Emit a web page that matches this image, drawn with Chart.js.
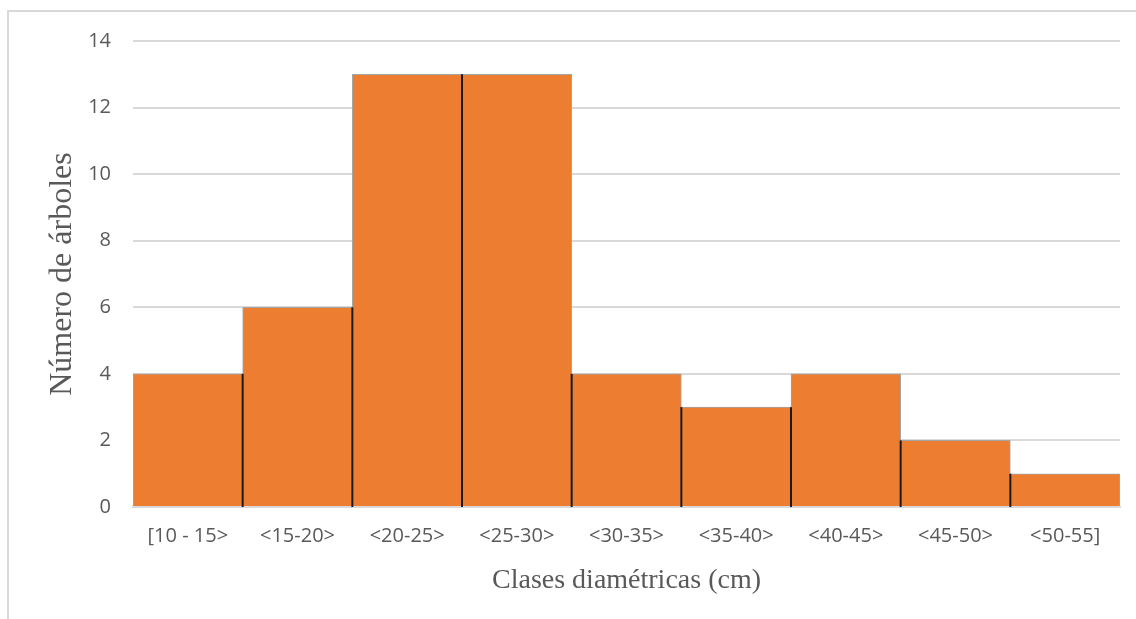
<!DOCTYPE html>
<html lang="es">
<head>
<meta charset="UTF-8">
<title>Clases diamétricas</title>
<script src="https://cdn.jsdelivr.net/npm/chart.js"></script>
<style>
  body { margin: 0; background: #fff; overflow: hidden; }
  .frame { position: absolute; left: 7px; top: 10px; width: 1140px; height: 640px; border: 2px solid #d9d9d9; box-sizing: border-box; }
  .wrap { position: absolute; left: 0; top: 0; width: 1136px; height: 619px; }
</style>
</head>
<body>
<div class="frame"></div>
<div class="wrap"><canvas id="histo"></canvas></div>
<script>
// Datos del histograma
const clases = ['[10 - 15>', '<15-20>', '<20-25>', '<25-30>', '<30-35>', '<35-40>', '<40-45>', '<45-50>', '<50-55]'];
const arboles = [4, 6, 13, 13, 4, 3, 4, 2, 1];
const yTicks = [0, 2, 4, 6, 8, 10, 12, 14];

// black separator lines between neighbouring bars
const separators = {
  id: 'separators',
  afterDatasetsDraw(chart) {
    const bars = chart.getDatasetMeta(0).data;
    const y = chart.scales.y;
    const ctx = chart.ctx;
    ctx.save();
    ctx.strokeStyle = '#1a1a1a';
    ctx.lineWidth = 2;
    for (let i = 1; i < bars.length; i++) {
      const lo = Math.min(arboles[i - 1], arboles[i]);
      const xPos = bars[i].x - bars[i].width / 2;
      ctx.beginPath();
      ctx.moveTo(xPos, y.getPixelForValue(0));
      ctx.lineTo(xPos, y.getPixelForValue(lo));
      ctx.stroke();
    }
    ctx.restore();
  }
};

new Chart(document.getElementById('histo'), {
  type: 'bar',
  data: {
    labels: clases,
    datasets: [{
      data: arboles,
      backgroundColor: '#ED7D31',
      borderColor: '#a5a5a5',
      borderWidth: 1,
      borderSkipped: 'bottom',
      categoryPercentage: 1.0,
      barPercentage: 1.0
    }]
  },
  options: {
    responsive: true,
    maintainAspectRatio: false,
    animation: false,
    layout: { padding: { top: 41, right: 16, bottom: 0, left: 43 } },
    plugins: { legend: { display: false }, tooltip: { enabled: false } },
    scales: {
      x: {
        grid: { display: false, drawTicks: false },
        border: { color: '#d9d9d9', width: 2 },
        ticks: { color: '#595959', font: { family: 'Open Sans', size: 20 }, padding: 17, maxRotation: 0 },
        title: { display: true, text: 'Clases diamétricas (cm)', color: '#595959', font: { family: 'Liberation Serif', size: 28 }, padding: { top: 4, bottom: 22 } },
        afterFit(scale) { scale.height = 112; }
      },
      y: {
        min: 0, max: 14,
        afterBuildTicks(scale) { scale.ticks = yTicks.map(v => ({ value: v })); },
        grid: { color: '#d9d9d9', lineWidth: 2, drawTicks: false },
        border: { display: false },
        ticks: { color: '#595959', font: { family: 'Open Sans', size: 20 }, padding: 22 },
        title: { display: true, text: 'Número de árboles', color: '#595959', font: { family: 'Liberation Serif', size: 32 }, padding: { top: 0, bottom: 0 } },
        afterFit(scale) { scale.width = 90; }
      }
    }
  },
  plugins: [separators]
});
</script>
</body>
</html>
